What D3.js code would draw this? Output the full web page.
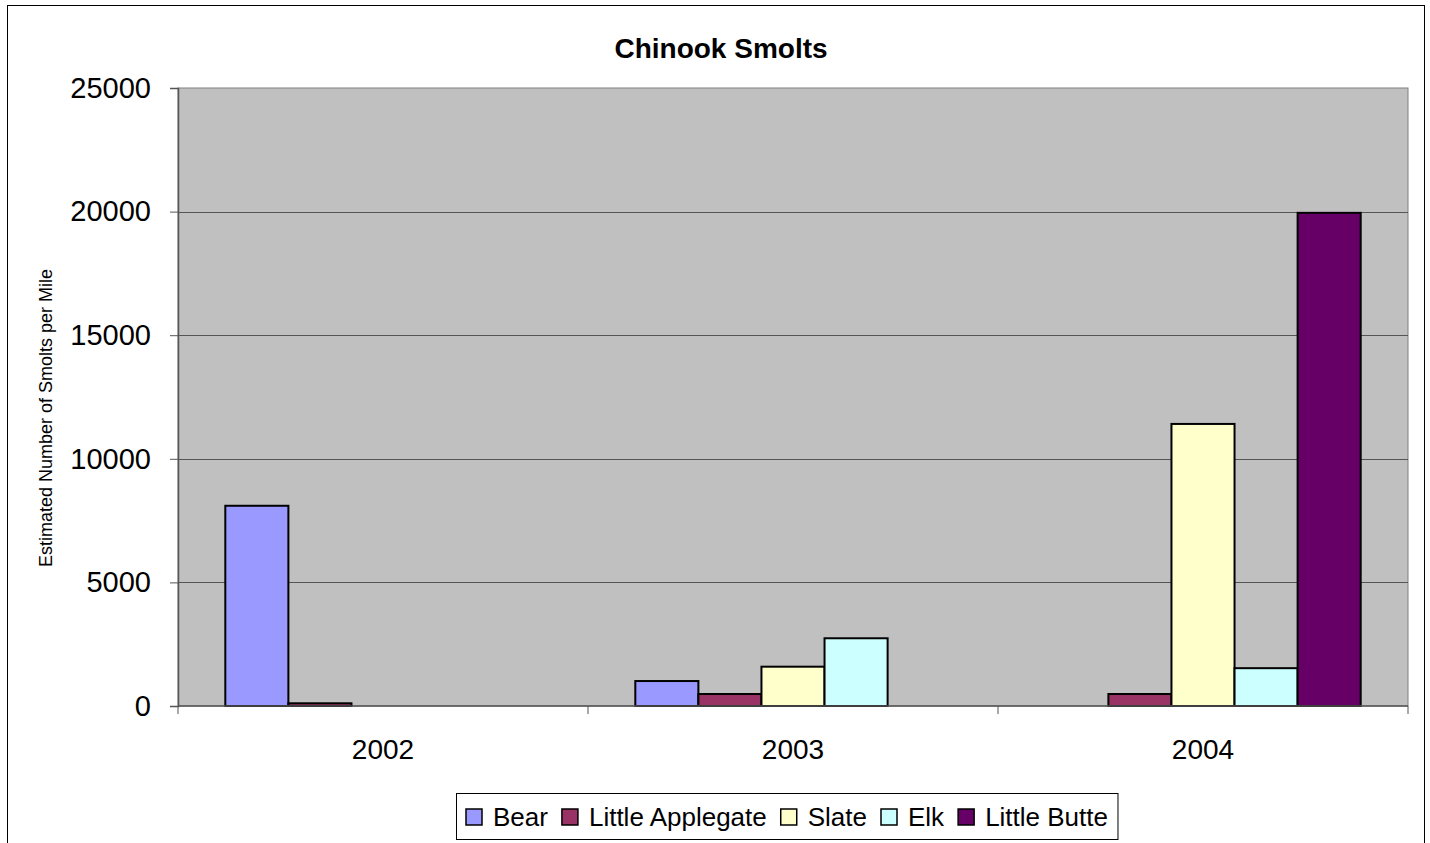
<!DOCTYPE html>
<html>
<head>
  <title>Chinook Smolts</title>
  <script src="https://d3js.org/d3.v7.min.js"></script>
  <style>
    body { margin: 0; background: #fff; }
    text { font-family: "Liberation Sans", Arial, sans-serif; }
  </style>
</head>
<body>
<svg id="chart"></svg>
<script>
  var years = ["2002", "2003", "2004"];
  var streams = ["Bear", "Little Applegate", "Slate", "Elk", "Little Butte"];
  var colors = ["#9999FF", "#993366", "#FFFFCC", "#CCFFFF", "#660066"];
  // values per stream, one per year (null = no bar)
  var bear = [8100, 1010, null];
  var littleApplegate = [110, 485, 485];
  var slate = [null, 1590, 11410];
  var elk = [null, 2740, 1530];
  var littleButte = [null, null, 19950];
  var yTicks = [0, 5000, 10000, 15000, 20000, 25000];

  var series = [bear, littleApplegate, slate, elk, littleButte];

  var width = 1430, height = 843;
  var plot = { left: 178, right: 1408, top: 88, bottom: 706 };

  var svg = d3.select("#chart")
    .attr("width", width)
    .attr("height", height);

  // outer chart border
  svg.append("rect")
    .attr("x", 7.5).attr("y", 5.5)
    .attr("width", 1417).attr("height", 850)
    .attr("fill", "#fff").attr("stroke", "#000").attr("stroke-width", 1);

  var x = d3.scaleBand()
    .domain(years)
    .range([plot.left, plot.right]);

  // Excel style: gap width 150% of bar width
  var barW = x.bandwidth() / (streams.length + 1.5);
  var x1 = d3.scaleBand()
    .domain(streams)
    .range([barW * 0.75, barW * 0.75 + barW * streams.length]);

  var y = d3.scaleLinear()
    .domain([0, 25000])
    .range([plot.bottom, plot.top]);

  // plot background
  svg.append("rect")
    .attr("x", plot.left).attr("y", plot.top)
    .attr("width", plot.right - plot.left).attr("height", plot.bottom - plot.top)
    .attr("fill", "#C0C0C0").attr("stroke", "#808080");

  // gridlines
  svg.append("g")
    .selectAll("line")
    .data(yTicks.filter(d => d > 0 && d < 25000))
    .enter().append("line")
    .attr("x1", plot.left).attr("x2", plot.right)
    .attr("y1", d => Math.round(y(d)) + 0.5).attr("y2", d => Math.round(y(d)) + 0.5)
    .attr("stroke", "#555").attr("stroke-width", 1.2);

  // bars
  var rows = [];
  series.forEach(function(vals, si) {
    vals.forEach(function(v, yi) {
      if (v != null) rows.push({ stream: streams[si], year: years[yi], value: v, color: colors[si] });
    });
  });

  svg.append("g")
    .selectAll("rect")
    .data(rows)
    .enter().append("rect")
    .attr("x", d => x(d.year) + x1(d.stream))
    .attr("y", d => y(d.value))
    .attr("width", x1.bandwidth())
    .attr("height", d => y(0) - y(d.value))
    .attr("fill", d => d.color)
    .attr("stroke", "#000")
    .attr("stroke-width", 2);

  // y axis
  var yAxis = svg.append("g")
    .attr("transform", "translate(" + plot.left + ",0)")
    .call(d3.axisLeft(y).tickValues(yTicks).tickSize(8).tickPadding(19).tickFormat(d3.format("d")));
  yAxis.select(".domain").attr("stroke", "#555").attr("stroke-width", 1.5);
  yAxis.selectAll(".tick line").attr("stroke", "#555");
  yAxis.selectAll("text").attr("font-size", 29).attr("fill", "#000");

  // x axis with ticks at category boundaries
  var xg = svg.append("g")
    .attr("transform", "translate(0," + plot.bottom + ")");
  xg.append("line")
    .attr("x1", plot.left).attr("x2", plot.right)
    .attr("stroke", "#555").attr("stroke-width", 1.5);
  var bounds = years.map(d => x(d)).concat([plot.right]);
  xg.selectAll(".bt")
    .data(bounds)
    .enter().append("line")
    .attr("x1", d => d).attr("x2", d => d)
    .attr("y1", 0).attr("y2", 8)
    .attr("stroke", "#555");
  xg.selectAll("text")
    .data(years)
    .enter().append("text")
    .attr("x", d => x(d) + x.bandwidth() / 2)
    .attr("y", 53)
    .attr("text-anchor", "middle")
    .attr("font-size", 28)
    .text(d => d);

  // title
  svg.append("text")
    .attr("x", 721).attr("y", 58)
    .attr("text-anchor", "middle")
    .attr("font-size", 28).attr("font-weight", "bold")
    .text("Chinook Smolts");

  // y axis title
  svg.append("text")
    .attr("transform", "translate(52,418) rotate(-90)")
    .attr("text-anchor", "middle")
    .attr("font-size", 18)
    .text("Estimated Number of Smolts per Mile");

  // legend
  var legend = svg.append("g");
  var box = legend.append("rect")
    .attr("x", 456.5).attr("y", 793.5)
    .attr("height", 46)
    .attr("fill", "#fff").attr("stroke", "#000");

  var lx = 466;
  streams.forEach(function(s, i) {
    legend.append("rect")
      .attr("x", lx).attr("y", 809)
      .attr("width", 16).attr("height", 16)
      .attr("fill", colors[i]).attr("stroke", "#000").attr("stroke-width", 1.5);
    var t = legend.append("text")
      .attr("x", lx + 27).attr("y", 826)
      .attr("font-size", 26)
      .text(s);
    lx += 27 + t.node().getComputedTextLength() + 14;
  });
  box.attr("width", lx - 14 + 10 - 456.5);
</script>
</body>
</html>
